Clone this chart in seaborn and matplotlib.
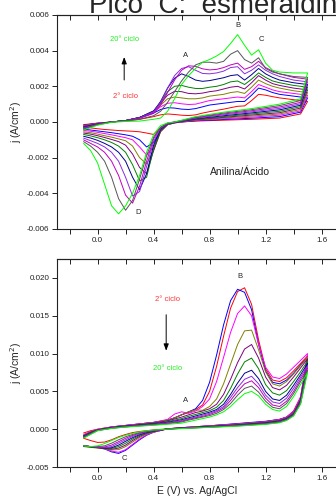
import numpy as np
import pandas as pd
import seaborn as sns
import matplotlib
matplotlib.use('Agg')
import matplotlib.pyplot as plt
from matplotlib.ticker import FormatStrFormatter, MultipleLocator

# cycles 2 .. 20 (every other one), colours as in the original Origin plot
ciclos = ['2', '4', '6', '8', '10', '12', '14', '16', '18', '19', '20']
cores = ['#FF0000', '#0000FF', '#FF00FF', '#808000', '#800080', '#008000',
         '#000090', '#8A2BE2', '#C000C0', '#555555', '#00FF00']

# ---- top panel: Anilina/Acido, current in mA/cm2 ----
E_ida_top = [-0.1, 0.0, 0.1, 0.2, 0.3, 0.4, 0.45, 0.5, 0.55, 0.6, 0.65, 0.7, 0.75,
             0.8, 0.85, 0.9, 0.95, 1.0, 1.05, 1.1, 1.15, 1.2, 1.25, 1.3, 1.4, 1.5]
E_volta_top = [1.5, 1.45, 1.3, 1.1, 0.9, 0.7, 0.6, 0.55, 0.5, 0.45, 0.4, 0.35, 0.3,
               0.25, 0.2, 0.15, 0.1, 0.05, 0.0, -0.05, -0.1]

ida_top = [
    [-0.15, -0.06, 0.0, 0.05, 0.15, 0.3, 0.4, 0.45, 0.42, 0.38, 0.36, 0.4, 0.5, 0.58, 0.65, 0.72, 0.8, 0.88, 0.9, 1.2, 1.55, 1.5, 1.42, 1.35, 1.25, 1.15],
    [-0.18, -0.07, 0.0, 0.08, 0.25, 0.5, 0.7, 0.8, 0.78, 0.72, 0.7, 0.75, 0.85, 0.95, 1.0, 1.05, 1.1, 1.15, 1.15, 1.5, 1.9, 1.8, 1.65, 1.55, 1.45, 1.35],
    [-0.2, -0.08, 0.0, 0.08, 0.25, 0.55, 0.85, 1.05, 1.08, 1.02, 0.98, 1.0, 1.1, 1.2, 1.25, 1.3, 1.35, 1.4, 1.35, 1.7, 2.1, 1.95, 1.8, 1.7, 1.6, 1.5],
    [-0.22, -0.09, 0.0, 0.08, 0.25, 0.6, 0.95, 1.3, 1.4, 1.35, 1.3, 1.3, 1.35, 1.45, 1.5, 1.55, 1.65, 1.7, 1.6, 1.95, 2.35, 2.15, 2.0, 1.9, 1.75, 1.65],
    [-0.25, -0.1, 0.0, 0.08, 0.25, 0.62, 1.05, 1.5, 1.72, 1.7, 1.6, 1.58, 1.62, 1.7, 1.75, 1.85, 1.95, 2.0, 1.85, 2.2, 2.6, 2.35, 2.15, 2.05, 1.9, 1.8],
    [-0.28, -0.11, 0.0, 0.08, 0.25, 0.62, 1.1, 1.7, 2.0, 2.05, 1.95, 1.88, 1.88, 1.95, 2.0, 2.1, 2.25, 2.3, 2.1, 2.4, 2.75, 2.5, 2.3, 2.2, 2.05, 1.95],
    [-0.3, -0.12, 0.0, 0.08, 0.25, 0.6, 1.15, 1.9, 2.45, 2.7, 2.55, 2.35, 2.28, 2.32, 2.4, 2.48, 2.6, 2.65, 2.35, 2.65, 3.0, 2.7, 2.5, 2.35, 2.2, 2.1],
    [-0.33, -0.13, 0.0, 0.08, 0.24, 0.58, 1.1, 1.9, 2.6, 3.0, 3.1, 2.9, 2.72, 2.7, 2.75, 2.85, 3.05, 3.1, 2.7, 2.9, 3.2, 2.9, 2.7, 2.55, 2.35, 2.25],
    [-0.36, -0.15, 0.0, 0.07, 0.2, 0.48, 0.95, 1.65, 2.35, 2.9, 3.15, 3.12, 2.98, 2.92, 2.95, 3.05, 3.2, 3.3, 2.95, 3.1, 3.4, 3.05, 2.85, 2.7, 2.5, 2.4],
    [-0.4, -0.16, 0.0, 0.06, 0.15, 0.35, 0.6, 1.1, 1.7, 2.3, 2.8, 3.2, 3.35, 3.35, 3.3, 3.4, 3.8, 4.0, 3.5, 3.3, 3.6, 3.0, 2.8, 2.7, 2.55, 2.5],
    [-0.45, -0.18, -0.02, 0.03, 0.05, 0.15, 0.22, 0.6, 1.3, 2.1, 2.6, 3.0, 3.35, 3.5, 3.7, 3.95, 4.4, 4.9, 4.3, 3.75, 4.05, 3.3, 2.9, 2.8, 2.75, 2.75],
]
volta_top = [
    [1.15, 0.45, 0.22, 0.15, 0.1, 0.05, 0.0, -0.05, -0.15, -0.35, -0.7, -0.62, -0.55, -0.52, -0.5, -0.48, -0.45, -0.42, -0.38, -0.33, -0.28],
    [1.35, 0.55, 0.3, 0.21, 0.14, 0.07, 0.0, -0.05, -0.15, -0.5, -1.15, -1.4, -1.0, -0.8, -0.72, -0.66, -0.6, -0.55, -0.5, -0.45, -0.4],
    [1.5, 0.62, 0.38, 0.27, 0.18, 0.09, 0.01, -0.04, -0.15, -0.55, -1.4, -1.85, -1.4, -1.0, -0.88, -0.8, -0.72, -0.65, -0.58, -0.52, -0.47],
    [1.65, 0.7, 0.45, 0.33, 0.22, 0.11, 0.02, -0.03, -0.15, -0.55, -1.6, -2.35, -2.0, -1.35, -1.05, -0.95, -0.85, -0.77, -0.68, -0.6, -0.55],
    [1.8, 0.78, 0.52, 0.39, 0.26, 0.13, 0.03, -0.03, -0.12, -0.5, -1.6, -2.9, -2.55, -1.8, -1.3, -1.1, -0.98, -0.87, -0.77, -0.68, -0.62],
    [1.95, 0.86, 0.6, 0.45, 0.3, 0.15, 0.04, -0.02, -0.1, -0.45, -1.5, -3.1, -3.3, -2.4, -1.7, -1.35, -1.15, -1.0, -0.88, -0.78, -0.7],
    [2.1, 0.94, 0.68, 0.51, 0.35, 0.18, 0.05, -0.02, -0.1, -0.4, -1.3, -2.9, -3.8, -3.1, -2.2, -1.7, -1.4, -1.2, -1.03, -0.9, -0.8],
    [2.25, 1.02, 0.76, 0.57, 0.4, 0.21, 0.06, -0.01, -0.1, -0.35, -1.1, -2.5, -3.9, -4.15, -3.1, -2.2, -1.7, -1.4, -1.2, -1.05, -0.9],
    [2.4, 1.1, 0.84, 0.63, 0.45, 0.24, 0.07, 0.0, -0.08, -0.3, -0.95, -2.2, -3.6, -4.55, -4.1, -3.0, -2.2, -1.7, -1.4, -1.2, -1.0],
    [2.5, 1.2, 0.92, 0.69, 0.5, 0.27, 0.08, 0.0, -0.06, -0.3, -0.85, -1.9, -3.2, -4.4, -4.95, -4.3, -3.1, -2.2, -1.7, -1.35, -1.1],
    [2.75, 1.3, 1.0, 0.75, 0.55, 0.3, 0.1, 0.0, -0.05, -0.2, -0.7, -1.7, -3.0, -4.0, -4.7, -5.15, -4.7, -3.5, -2.3, -1.6, -1.2],
]

# ---- bottom panel, current in mA/cm2 ----
E_ida_bot = [-0.1, -0.05, 0.0, 0.1, 0.2, 0.3, 0.4, 0.5, 0.55, 0.6, 0.65, 0.7, 0.75, 0.8,
             0.85, 0.9, 0.95, 1.0, 1.05, 1.1, 1.15, 1.2, 1.25, 1.3, 1.35, 1.4, 1.45, 1.5]
E_volta_bot = [1.5, 1.45, 1.4, 1.35, 1.3, 1.2, 1.0, 0.8, 0.6, 0.5, 0.4, 0.35, 0.3, 0.25,
               0.2, 0.15, 0.1, 0.05, 0.0, -0.05, -0.1]

ida_bot = [
    [-0.5, -0.2, 0.0, 0.3, 0.5, 0.7, 0.9, 1.2, 1.5, 1.9, 2.2, 2.6, 3.2, 5.0, 8.3, 12.3, 16.0, 18.2, 18.7, 16.5, 11.8, 8.0, 6.5, 6.3, 6.8, 7.7, 8.7, 9.7],
    [-0.9, -0.4, -0.1, 0.3, 0.5, 0.7, 0.9, 1.2, 1.5, 1.9, 2.3, 2.7, 3.8, 6.2, 9.8, 13.8, 17.0, 18.5, 18.1, 15.8, 11.2, 7.7, 6.2, 6.0, 6.5, 7.4, 8.5, 9.5],
    [-0.7, -0.3, 0.0, 0.3, 0.5, 0.7, 0.9, 1.3, 2.0, 2.3, 2.1, 2.4, 3.0, 4.0, 6.3, 9.5, 12.8, 15.3, 16.3, 15.0, 11.2, 8.2, 6.9, 6.7, 7.3, 8.2, 9.1, 10.0],
    [-0.8, -0.35, -0.05, 0.25, 0.45, 0.65, 0.85, 1.2, 1.5, 1.9, 2.3, 2.55, 2.5, 3.0, 4.0, 6.0, 8.6, 11.2, 13.0, 13.1, 10.5, 7.6, 6.0, 5.7, 6.3, 7.3, 8.4, 9.5],
    [-0.85, -0.4, -0.08, 0.22, 0.42, 0.6, 0.8, 1.1, 1.35, 1.6, 1.9, 2.2, 2.4, 2.7, 3.3, 4.6, 6.6, 8.8, 10.6, 11.2, 9.4, 6.9, 5.5, 5.2, 5.8, 6.9, 8.1, 9.3],
    [-0.9, -0.45, -0.1, 0.2, 0.4, 0.57, 0.75, 1.0, 1.2, 1.4, 1.7, 1.95, 2.2, 2.45, 2.9, 3.8, 5.4, 7.3, 8.9, 9.4, 8.0, 5.9, 4.8, 4.5, 5.1, 6.3, 7.6, 9.0],
    [-0.95, -0.5, -0.12, 0.18, 0.38, 0.54, 0.7, 0.92, 1.08, 1.25, 1.5, 1.75, 2.0, 2.25, 2.6, 3.3, 4.6, 6.1, 7.4, 7.8, 6.7, 5.0, 4.0, 3.8, 4.5, 5.8, 7.2, 8.7],
    [-1.0, -0.55, -0.14, 0.16, 0.35, 0.5, 0.65, 0.85, 1.0, 1.15, 1.4, 1.6, 1.85, 2.1, 2.45, 3.0, 4.2, 5.5, 6.6, 7.0, 6.0, 4.5, 3.6, 3.4, 4.1, 5.4, 6.9, 8.4],
    [-1.05, -0.6, -0.16, 0.14, 0.32, 0.47, 0.6, 0.78, 0.92, 1.05, 1.3, 1.5, 1.7, 1.95, 2.3, 2.8, 3.8, 5.0, 6.0, 6.4, 5.5, 4.1, 3.2, 3.0, 3.7, 5.0, 6.6, 8.1],
    [-1.1, -0.65, -0.18, 0.12, 0.3, 0.44, 0.56, 0.72, 0.84, 0.95, 1.2, 1.4, 1.6, 1.8, 2.1, 2.6, 3.4, 4.5, 5.4, 5.7, 4.9, 3.7, 2.9, 2.7, 3.4, 4.7, 6.3, 7.8],
    [-1.2, -0.7, -0.2, 0.1, 0.28, 0.4, 0.52, 0.65, 0.72, 0.8, 1.0, 1.2, 1.4, 1.6, 1.9, 2.3, 3.0, 3.9, 4.7, 5.0, 4.4, 3.3, 2.6, 2.4, 3.0, 4.3, 5.9, 7.5],
]
volta_bot = [
    [9.7, 4.2, 2.4, 1.6, 1.3, 1.0, 0.7, 0.45, 0.2, 0.05, -0.1, -0.2, -0.3, -0.45, -0.7, -1.0, -1.4, -1.7, -1.75, -1.5, -1.2],
    [9.5, 4.1, 2.3, 1.6, 1.3, 1.05, 0.75, 0.45, 0.2, 0.05, -0.4, -0.8, -1.4, -2.1, -2.8, -3.2, -3.0, -2.6, -2.4, -2.3, -2.2],
    [10.0, 4.3, 2.4, 1.6, 1.3, 1.0, 0.7, 0.45, 0.2, 0.05, -0.4, -0.75, -1.3, -2.0, -2.7, -3.05, -2.9, -2.6, -2.4, -2.3, -2.2],
    [9.5, 4.0, 2.2, 1.5, 1.2, 0.95, 0.65, 0.4, 0.18, 0.05, -0.35, -0.65, -1.1, -1.7, -2.3, -2.7, -2.75, -2.6, -2.5, -2.4, -2.3],
    [9.3, 3.9, 2.1, 1.45, 1.15, 0.9, 0.6, 0.38, 0.16, 0.04, -0.3, -0.55, -0.95, -1.5, -2.1, -2.5, -2.65, -2.55, -2.45, -2.35, -2.25],
    [9.0, 3.8, 2.0, 1.4, 1.1, 0.85, 0.55, 0.35, 0.15, 0.03, -0.27, -0.48, -0.82, -1.3, -1.85, -2.3, -2.55, -2.5, -2.4, -2.3, -2.2],
    [8.7, 3.7, 1.95, 1.35, 1.05, 0.8, 0.52, 0.32, 0.14, 0.03, -0.24, -0.42, -0.72, -1.12, -1.6, -2.1, -2.45, -2.5, -2.4, -2.3, -2.2],
    [8.4, 3.6, 1.9, 1.3, 1.0, 0.75, 0.5, 0.3, 0.12, 0.02, -0.2, -0.36, -0.62, -0.96, -1.4, -1.85, -2.3, -2.45, -2.4, -2.3, -2.2],
    [8.1, 3.5, 1.85, 1.25, 0.95, 0.72, 0.47, 0.28, 0.11, 0.02, -0.17, -0.31, -0.52, -0.82, -1.2, -1.65, -2.1, -2.35, -2.35, -2.3, -2.2],
    [7.8, 3.4, 1.8, 1.2, 0.9, 0.68, 0.44, 0.26, 0.1, 0.01, -0.14, -0.26, -0.44, -0.7, -1.0, -1.4, -1.85, -2.2, -2.3, -2.3, -2.2],
    [7.5, 3.3, 1.75, 1.15, 0.85, 0.64, 0.4, 0.24, 0.08, 0.0, -0.1, -0.2, -0.35, -0.55, -0.8, -1.1, -1.5, -1.9, -2.2, -2.3, -2.2],
]


def monta(E_ida, E_volta, ida, volta):
    partes = []
    for k, c in enumerate(ciclos):
        E = E_ida + E_volta
        j = np.array(ida[k] + volta[k]) * 1e-3   # mA -> A
        partes.append(pd.DataFrame({'E': E, 'j': j, 'ciclo': c}))
    return pd.concat(partes, ignore_index=True)


df_top = monta(E_ida_top, E_volta_top, ida_top, volta_top)
df_bot = monta(E_ida_bot, E_volta_bot, ida_bot, volta_bot)

sns.set_style('white')
plt.rcParams['font.family'] = ['Liberation Sans', 'DejaVu Sans']
plt.rcParams['axes.unicode_minus'] = False

fig = plt.figure(figsize=(3.36, 4.99), dpi=100)
ax1 = fig.add_axes([0.1696, 0.5411, 0.8333, 0.4289])
ax2 = fig.add_axes([0.1696, 0.0641, 0.8333, 0.4168])
paleta = dict(zip(ciclos, cores))

for ax, df in [(ax1, df_top), (ax2, df_bot)]:
    sns.lineplot(data=df, x='E', y='j', hue='ciclo', palette=paleta, sort=False,
                 estimator=None, legend=False, lw=0.7, ax=ax)
    ax.set_xlim(-0.29, 1.71)
    ax.xaxis.set_major_locator(MultipleLocator(0.4))
    ax.xaxis.set_minor_locator(MultipleLocator(0.2))
    ax.xaxis.set_major_formatter(FormatStrFormatter('%.1f'))
    ax.yaxis.set_major_formatter(FormatStrFormatter('%.3f'))
    ax.tick_params(axis='both', which='both', direction='out', length=3.5, width=0.7,
                   labelsize=5.8, pad=2, colors='#222222', bottom=True, left=True)
    for s in ax.spines.values():
        s.set_linewidth(0.8)
        s.set_color('#222222')
    top = ax.secondary_xaxis('top')
    top.set_xticks(np.arange(-0.2, 1.61, 0.2))
    top.tick_params(direction='in', length=3.5, width=0.7, labeltop=False, colors='#222222')
    ax.set_ylabel('j (A/cm$^2$)', fontsize=7.5, labelpad=2)

ax1.set_xlabel('')
ax1.set_ylim(-0.006, 0.006)
ax1.set_yticks(np.arange(-0.006, 0.0061, 0.002))
ax2.set_ylim(-0.005, 0.0225)
ax2.set_yticks(np.arange(-0.005, 0.0201, 0.005))
ax2.set_xlabel('E (V) vs. Ag/AgCl', fontsize=7.5, labelpad=3)

# annotations, top panel
ax1.text(1.0, 0.0054, 'B', fontsize=5.5, ha='center', va='center')
ax1.text(0.63, 0.0037, 'A', fontsize=5.5, ha='center', va='center')
ax1.text(1.17, 0.0046, 'C', fontsize=5.5, ha='center', va='center')
ax1.text(0.29, -0.00505, 'D', fontsize=5.5, ha='center', va='center')
ax1.text(0.19, 0.0046, '20° ciclo', fontsize=5.5, color='#22EE22', ha='center', va='center')
ax1.text(0.2, 0.00145, '2° ciclo', fontsize=5.5, color='#FF3333', ha='center', va='center')
ax1.annotate('', xy=(0.19, 0.0038), xytext=(0.19, 0.0022),
             arrowprops=dict(arrowstyle='-|>,head_length=0.4,head_width=0.15', lw=0.7, color='black'))
ax1.text(1.02, -0.0028, 'Anilina/Ácido', fontsize=7.5, ha='center', va='center', color='#222222')

# annotations, bottom panel
ax2.text(1.02, 0.0202, 'B', fontsize=5.5, ha='center', va='center')
ax2.text(0.63, 0.00385, 'A', fontsize=5.5, ha='center', va='center')
ax2.text(0.19, -0.00385, 'C', fontsize=5.5, ha='center', va='center')
ax2.text(0.5, 0.0172, '2° ciclo', fontsize=5.5, color='#FF3333', ha='center', va='center')
ax2.text(0.5, 0.0080, '20° ciclo', fontsize=5.5, color='#22EE22', ha='center', va='center')
ax2.annotate('', xy=(0.49, 0.0100), xytext=(0.49, 0.0155),
             arrowprops=dict(arrowstyle='-|>,head_length=0.4,head_width=0.15', lw=0.7, color='black'))

fig.text(89 / 336, 1 - 13 / 499, 'Pico  C:  esmeraldina', fontsize=20, ha='left', va='baseline')

fig.savefig('out.png', dpi=100)
